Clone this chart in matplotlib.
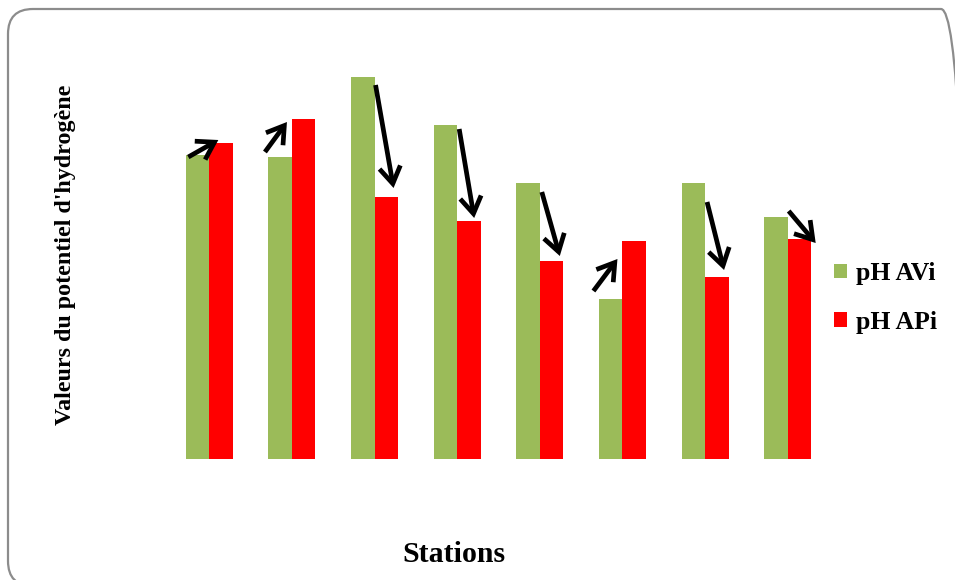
import matplotlib
matplotlib.use("Agg")
import matplotlib.pyplot as plt
from matplotlib.patches import FancyBboxPatch
from matplotlib.transforms import offset_copy
import numpy as np

# Station data
stations = ["S1", "S2", "S3", "S4", "S5", "S6", "S7", "S8"]
ph_avi = [8.02, 8.01, 8.41, 8.17, 7.88, 7.30, 7.88, 7.71]
ph_api = [8.08, 8.20, 7.81, 7.69, 7.49, 7.59, 7.41, 7.60]
series_labels = ["pH AVi", "pH APi"]

# Trend arrows: pixel offsets (right, down) of tail from the AVi bar top
# and of tip from the APi bar top
arrow_tail_offsets = [(-21, 2), (-27, -5), (1, 8), (2, 4), (2, 9), (-29, -8), (2, 19), (1, -6)]
arrow_tip_offsets = [(9, -3), (-5, 3), (19, -9), (17, -3), (20, -5), (-5, 18), (19, -7), (28, 4)]

GREEN = "#9BBB59"
RED = "#FF0000"
SERIF = ["Liberation Serif", "DejaVu Serif"]

W, H = 955, 580
fig = plt.figure(figsize=(W / 100, H / 100), dpi=100)

# Rounded outer frame
frame = FancyBboxPatch((8, -6), 958, H - 9 + 6, boxstyle="round,pad=0,rounding_size=25",
                       transform=None, facecolor="none", edgecolor="#8c8c8c",
                       linewidth=1.6, zorder=3)
fig.patches.append(frame)

left, right, bottom, top = 168, 829, 459, 57
ax = fig.add_axes([left / W, 1 - bottom / H, (right - left) / W, (bottom - top) / H])
ax.set_facecolor("none")

base = 6.5
ymax = base + (bottom - top) / 200.0
x = np.arange(len(stations))
bw = 0.285
ax.bar(x - bw / 2, np.array(ph_avi) - base, bw, bottom=base, color=GREEN,
       label=series_labels[0], zorder=2)
ax.bar(x + bw / 2, np.array(ph_api) - base, bw, bottom=base, color=RED,
       label=series_labels[1], zorder=2)

ax.set_xlim(-0.5, len(stations) - 0.5)
ax.set_ylim(base, ymax)
ax.set_xticks([])
ax.set_yticks([])
for s in ax.spines.values():
    s.set_visible(False)

# Arrows showing the change from AVi to APi
for i in range(len(stations)):
    tdx, tdy = arrow_tail_offsets[i]
    hdx, hdy = arrow_tip_offsets[i]
    tail_tr = offset_copy(ax.transData, fig=fig, x=tdx, y=-tdy, units="dots")
    tip_tr = offset_copy(ax.transData, fig=fig, x=hdx, y=-hdy, units="dots")
    ax.annotate("", xy=(x[i], ph_api[i]), xycoords=tip_tr,
                xytext=(x[i], ph_avi[i]), textcoords=tail_tr,
                arrowprops=dict(arrowstyle="->,head_length=0.6,head_width=0.38",
                                mutation_scale=20, lw=3.4, color="black",
                                shrinkA=0, shrinkB=0, joinstyle="miter",
                                capstyle="butt"),
                zorder=5, annotation_clip=False)

fig.text(65 / W, 1 - 255 / H, "Valeurs du potentiel d'hydrogène", rotation=90,
         ha="center", va="center", fontsize=17.3, fontweight="bold", family=SERIF)
fig.text(454 / W, 1 - 554 / H, "Stations", ha="center", va="center",
         fontsize=21.5, fontweight="bold", family=SERIF)

leg = ax.legend(loc="center left", bbox_to_anchor=(824 / W, 1 - 298 / H),
                bbox_transform=fig.transFigure, frameon=False,
                handlelength=0.5, handleheight=0.5, handletextpad=0.35,
                labelspacing=1.0, borderaxespad=0,
                prop={"family": SERIF, "weight": "bold", "size": 18.5})

fig.savefig("out.png", dpi=100, facecolor="white")
